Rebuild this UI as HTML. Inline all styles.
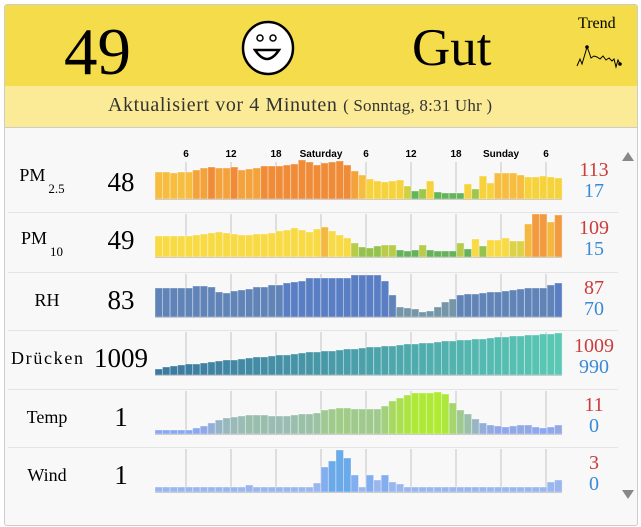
<!DOCTYPE html>
<html><head><meta charset="utf-8"><style>
body{margin:0;width:641px;height:527px;background:#fff;overflow:hidden;font-family:"Liberation Serif",serif;position:relative}
.card{position:absolute;left:4px;top:4px;width:632px;height:520px;border:1px solid #ccc;background:#f8f8f8;border-radius:3px;overflow:hidden}
.hd{position:absolute;left:0;top:0;width:632px;height:81px;background:#f5dc4a}
.sub{position:absolute;left:0;top:81px;width:632px;height:41px;background:#fbeb97;border-bottom:1px solid #ccc}
.t{position:absolute;white-space:nowrap}
</style></head><body>
<div class="card">
<div class="hd"></div><div class="sub"></div>
</div>
<div class="t" style="left:64px;top:12px;font-size:67px;line-height:80px">49</div>
<svg style="position:absolute;left:240px;top:20px" width="56" height="56"><ellipse cx="28" cy="28" rx="25" ry="26" fill="#fff" stroke="#000" stroke-width="2.5"/><circle cx="20" cy="18" r="3" fill="none" stroke="#000" stroke-width="1.5"/><circle cx="33" cy="18" r="3" fill="none" stroke="#000" stroke-width="1.5"/><path d="M15 30 Q27 48 39 30 Z" fill="#fff" stroke="#000" stroke-width="2.5"/></svg>
<div class="t" style="left:412px;top:18px;font-size:53px;line-height:60px">Gut</div>
<div class="t" style="left:578px;top:15px;font-size:16px">Trend</div>
<svg style="position:absolute;left:576px;top:44px" width="50" height="30"><polyline points="1,22 4,15 6,20 9,10 11,3 13,8 15,14 18,12 21,13 24,15 27,12 30,16 33,14 36,17 38,15 40,23 42,16 44,20" fill="none" stroke="#000" stroke-width="1"/><circle cx="11" cy="3" r="1.8"/><circle cx="44" cy="20" r="1.8"/></svg>
<div class="t" style="left:108px;top:94px;font-size:20px;letter-spacing:0.6px;color:#333">Aktualisiert vor 4 Minuten <span style="font-size:17px;letter-spacing:0.2px">( Sonntag, 8:31 Uhr )</span></div>
<svg id="s" style="position:absolute;left:0;top:0" width="641" height="527"></svg>
<script>
var s=document.getElementById('s'),h='';
var ticks=[186,231,276,321,366,411,456,501,546];
var labs=['6','12','18','Saturday','6','12','18','Sunday','6'];
var rows=[
{n:'PM',sub:'2.5',v:'48',b:199,mx:'113',mn:'17',d:[27,27,26,27,27,29,31,32,31,31,32,29,30,31,33,33,33,34,35,39,37,34,36,37,38,34,28,24,20,18,17,18,19,13,8,10,18,7,6,6,6,15,10,23,16,26,26,26,24,22,22,23,22,21],c:function(v){return v>=32?'#f08c38':v>=28?'#f4a23c':v>=24?'#f6bd40':v>=15?'#f6d33c':v>=12?'#cfd044':v>=9?'#9ec64a':'#64b55a'}},
{n:'PM',sub:'10',v:'49',b:257,mx:'109',mn:'15',d:[21,21,21,21,21,22,23,24,25,24,23,22,22,23,23,24,26,27,29,27,25,28,30,26,22,19,14,10,9,11,12,12,7,6,7,12,7,6,6,6,14,8,18,11,17,17,19,16,16,33,43,43,35,42],c:function(v){return v>=40?'#f29a40':v>=30?'#f4b840':v>=17?'#f8da44':v>=15?'#dcd24a':v>=12?'#b8cc4a':v>=9?'#94c24c':'#66b25a'}},
{n:'RH',v:'83',b:317,mx:'87',mn:'70',d:[29,29,29,29,29,31,31,30,25,24,26,27,28,30,30,32,32,34,35,36,39,39,39,39,39,39,42,42,42,42,36,22,10,9,8,5,6,10,15,18,22,23,23,24,25,25,26,27,28,29,29,29,32,34],c:function(v){return v>=34?'#5a7ec4':v>=20?'#6184b8':'#7595a8'}},
{n:'Drücken',v:'1009',b:375,mx:'1009',mn:'990',d:[],c:null},
{n:'Temp',v:'1',b:434,mx:'11',mn:'0',d:[4,4,4,4,4,6,8,11,14,16,17,18,19,19,19,18,18,18,19,20,20,21,24,25,26,26,25,25,25,25,28,33,36,39,41,41,41,42,40,31,24,20,15,11,9,8,7,8,9,9,7,6,7,9],c:null},
{n:'Wind',v:'1',b:492,mx:'3',mn:'0',d:[5,5,5,5,5,5,5,5,5,5,5,5,7,5,5,5,5,5,5,5,5,9,25,31,42,34,17,5,17,12,17,10,8,5,5,5,5,5,5,5,5,5,5,5,5,5,5,5,5,5,5,5,10,12],c:function(v){return v>=30?'#6aaae8':v>=15?'#82aef0':'#9ab6ee'}}
];
for(var i=0;i<54;i++)rows[3].d.push(Math.round(6+36*Math.pow(i/53,0.8)));
function mix(a,b,t){var r=[];for(var k=0;k<3;k++)r.push(Math.round(a[k]+(b[k]-a[k])*t));return 'rgb('+r+')'}
rows.forEach(function(r,ri){
 var top=r.b-43,cy=r.b-20;
 if(ri>0)h+='<line x1="8" x2="618" y1="'+(r.b-44.5)+'" y2="'+(r.b-44.5)+'" stroke="#e4e4e4"/>';
 ticks.forEach(function(x,k){h+='<line x1="'+x+'" x2="'+x+'" y1="'+(ri==0?top+6:top)+'" y2="'+r.b+'" stroke="#c4c4c4"/>';
  if(ri==0)h+='<text x="'+x+'" y="'+(top+1)+'" font-family="Liberation Sans" font-size="10" font-weight="bold" text-anchor="middle">'+labs[k]+'</text>';});
 r.d.forEach(function(v,i){var x=155+i*7.54,c;
  if(ri==3)c=mix([60,120,160],[90,200,180],i/53);
  else if(ri==4)c=v<=6?'#88a8f2':mix([150,180,200],[175,235,50],Math.min(1,(v-14)/28));
  else c=r.c(v);
  h+='<rect x="'+x.toFixed(1)+'" y="'+(r.b-v)+'" width="7.5" height="'+v+'" fill="'+c+'" stroke="rgba(255,255,255,0.35)" stroke-width="1"/>';});
 h+='<line x1="155" x2="562" y1="'+(r.b+0.5)+'" y2="'+(r.b+0.5)+'" stroke="#ccc"/>';
 var lx=ri==3?47:(r.sub?42:47);
 var ly=r.sub?(ri==0?cy+2:cy+7):cy+9;
 h+='<text x="'+lx+'" y="'+ly+'" font-size="18" text-anchor="middle"'+(ri==3?' textLength="72"':'')+'>'+r.n+(r.sub?'<tspan font-size="13" dx="3" dy="12">'+r.sub+'</tspan>':'')+'</text>';
 h+='<text x="121" y="'+(cy+12)+'" font-size="27" text-anchor="middle">'+r.v+'</text>';
 h+='<text x="594" y="'+(cy-3)+'" font-size="20" fill="#cc3b3b" text-anchor="middle">'+r.mx+'</text>';
 h+='<text x="594" y="'+(cy+18)+'" font-size="20" fill="#3a8ad6" text-anchor="middle">'+r.mn+'</text>';
});
h+='<polygon points="622,161 634,161 628,152" fill="#888"/><polygon points="622,490 634,490 628,499" fill="#888"/>';
s.innerHTML=h;
</script>
</body></html>
